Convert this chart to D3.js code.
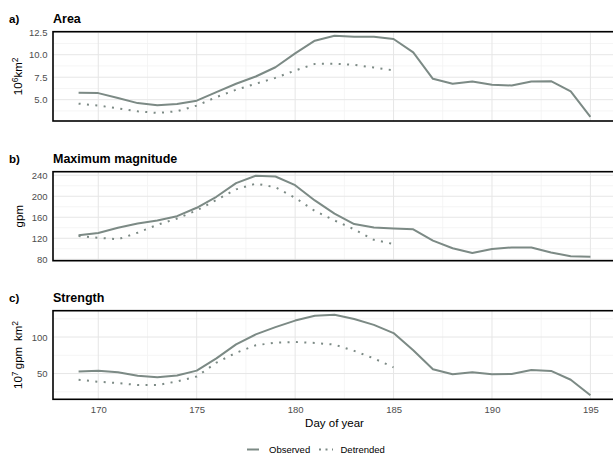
<!DOCTYPE html>
<html><head><meta charset="utf-8">
<script src="https://cdn.jsdelivr.net/npm/d3@7"></script>
<style>
body{margin:0;background:#fff;}
text{font-family:"Liberation Sans",Arial,Helvetica,sans-serif;}
</style></head>
<body><svg id="chart" width="613" height="454"></svg>
<script>
const days = d3.range(169, 196);
const detDays = d3.range(169, 186);

const areaObserved = [5.77,5.73,5.18,4.62,4.37,4.51,4.89,5.84,6.77,7.58,8.61,10.15,11.56,12.11,12.0,12.0,11.75,10.27,7.32,6.77,7.02,6.66,6.58,7.02,7.06,5.92,3.08];
const areaDetrended = [4.56,4.34,4.04,3.71,3.52,3.71,4.34,5.29,6.1,6.77,7.43,8.24,8.98,9.0,8.87,8.57,8.27];

const magObserved = [125.6,130,140,148,154,162,178,199,225,239,237.5,221,192,167,147,140.6,138.8,137,115.6,101,92,99.4,102.5,102.5,93,85.6,85];
const magDetrended = [124.4,121,118,130.6,145.6,157.5,173,193,213,224,217,197,172,154,137,117,109];

const strObserved = [52.7,54,51.8,46.9,45,47.3,54,70.7,90,103.6,113.5,122.5,129.2,130.5,124.7,116.6,105.4,82,55.9,49,51.8,49,49.5,55,53.6,41.5,20.3];
const strDetrended = [41.5,38.8,37,34.3,34.3,39.2,46,64.9,78.4,88.7,92.3,93.2,91.9,89.6,81,70.7,58.5];

const xTicks = [170,175,180,185,190,195];
const areaTicks = [5,7.5,10,12.5];
const magTicks = [80,120,160,200,240];
const strTicks = [50,100];

const panelLetters = ["a)","b)","c)"];
const panelTitles = ["Area","Maximum magnitude","Strength"];
const legendLabels = ["Observed","Detrended"];

const svg = d3.select("#chart");
const lineColor = "#7c8a85";
const left = 53, right = 616;

const x = d3.scaleLinear().domain([169 - 1.3, 195 + 1.3]).range([left, right]);

const panels = [
  {letter: panelLetters[0], title: panelTitles[0], obs: areaObserved, det: areaDetrended, ticks: areaTicks, fmt: d3.format(".1f"), top: 31.7, bottom: 121, ytitle: "area"},
  {letter: panelLetters[1], title: panelTitles[1], obs: magObserved, det: magDetrended, ticks: magTicks, fmt: d3.format("d"), top: 171.7, bottom: 260.7, ytitle: "gpm"},
  {letter: panelLetters[2], title: panelTitles[2], obs: strObserved, det: strDetrended, ticks: strTicks, fmt: d3.format("d"), top: 310.7, bottom: 399.3, ytitle: "str"}
];

panels.forEach((p, i) => {
  const all = p.obs.concat(p.det);
  const mn = d3.min(all), mx = d3.max(all), r = mx - mn;
  const y = d3.scaleLinear().domain([mn - 0.05*r, mx + 0.05*r]).range([p.bottom, p.top]);
  const g = svg.append("g");

  // minor grid
  const step = p.ticks[1] - p.ticks[0];
  const minorY = [];
  for (let v = p.ticks[0] - step*2.5; v <= p.ticks[p.ticks.length-1] + step*2; v += step) {
    if (v > y.domain()[0] && v < y.domain()[1]) minorY.push(v);
  }
  const minorX = [167.5,172.5,177.5,182.5,187.5,192.5];
  g.selectAll(".mny").data(minorY).enter().append("line")
    .attr("x1", left).attr("x2", right).attr("y1", d=>y(d)).attr("y2", d=>y(d))
    .attr("stroke","#f2f2f2").attr("stroke-width",0.8);
  g.selectAll(".mnx").data(minorX.filter(d=>x(d)>left)).enter().append("line")
    .attr("y1", p.top).attr("y2", p.bottom).attr("x1", d=>x(d)).attr("x2", d=>x(d))
    .attr("stroke","#f2f2f2").attr("stroke-width",0.8);
  // major grid
  g.selectAll(".mjy").data(p.ticks.filter(d=>d>=y.domain()[0] && d<=y.domain()[1])).enter().append("line")
    .attr("x1", left).attr("x2", right).attr("y1", d=>y(d)).attr("y2", d=>y(d))
    .attr("stroke","#e6e6e6").attr("stroke-width",1);
  g.selectAll(".mjx").data(xTicks).enter().append("line")
    .attr("y1", p.top).attr("y2", p.bottom).attr("x1", d=>x(d)).attr("x2", d=>x(d))
    .attr("stroke","#e6e6e6").attr("stroke-width",1);

  // lines
  const line = d3.line().x(d=>x(d[0])).y(d=>y(d[1]));
  g.append("path").datum(days.map((d,k)=>[d,p.obs[k]]))
    .attr("d", line).attr("fill","none").attr("stroke",lineColor)
    .attr("stroke-width",2).attr("stroke-linejoin","round");
  g.append("path").datum(detDays.map((d,k)=>[d,p.det[k]]))
    .attr("d", line).attr("fill","none").attr("stroke",lineColor)
    .attr("stroke-width",2).attr("stroke-dasharray","2 6.4");

  // border
  g.append("rect").attr("x", left).attr("y", p.top).attr("width", right-left).attr("height", p.bottom-p.top)
    .attr("fill","none").attr("stroke","#000").attr("stroke-width",1.6);

  // y axis
  const yAxis = d3.axisLeft(y).tickValues(p.ticks.filter(d=>d>=y.domain()[0]-1e-9 && d<=y.domain()[1]+1e-9)).tickFormat(p.fmt).tickSize(0).tickPadding(5.5);
  const ax = g.append("g").attr("transform",`translate(${left},0)`).call(yAxis);
  ax.select(".domain").remove();
  ax.selectAll("text").attr("fill","#4d4d4d").style("font-size","9.5px");

  // titles
  g.append("text").attr("x",9).attr("y",p.top-9).text(p.letter)
    .style("font-size","11.5px").style("font-weight","bold").attr("fill","#000");
  g.append("text").attr("x",53).attr("y",p.top-9).text(p.title)
    .style("font-size","12.5px").style("font-weight","bold").attr("fill","#000");

  // y title
  const cy = (p.top + p.bottom)/2;
  const yt = g.append("text").attr("transform",`translate(22,${cy}) rotate(-90)`)
    .attr("text-anchor","middle").style("font-size","11.5px").attr("fill","#000");
  if (p.ytitle === "area") {
    yt.append("tspan").text("10");
    yt.append("tspan").text("6").attr("dy",-4.5).style("font-size","8.5px");
    yt.append("tspan").text("km").attr("dy",4.5);
    yt.append("tspan").text("2").attr("dy",-4.5).style("font-size","8.5px");
  } else if (p.ytitle === "gpm") {
    yt.attr("transform",`translate(23,${cy}) rotate(-90)`).text("gpm");
  } else {
    yt.append("tspan").text("10");
    yt.append("tspan").text("7").attr("dy",-4.5).style("font-size","8.5px");
    yt.append("tspan").text("\u2009gpm\u2002km").attr("dy",4.5);
    yt.append("tspan").text("2").attr("dy",-4.5).style("font-size","8.5px");
  }

  if (i === 2) {
    const xAxis = d3.axisBottom(x).tickValues(xTicks).tickFormat(d3.format("d")).tickSize(0).tickPadding(6.5);
    const xa = g.append("g").attr("transform",`translate(0,${p.bottom})`).call(xAxis);
    xa.select(".domain").remove();
    xa.selectAll("text").attr("fill","#4d4d4d").style("font-size","9.5px");
    g.append("text").attr("x",(left+right)/2).attr("y",427).attr("text-anchor","middle")
      .style("font-size","11.5px").attr("fill","#000").text("Day of year");
  }
});

// legend
const lg = svg.append("g");
lg.append("line").attr("x1",247).attr("x2",259).attr("y1",449.5).attr("y2",449.5)
  .attr("stroke",lineColor).attr("stroke-width",2);
lg.append("text").attr("x",269).attr("y",453).text(legendLabels[0]).style("font-size","9.5px").attr("fill","#000");
lg.append("line").attr("x1",319).attr("x2",333).attr("y1",449.5).attr("y2",449.5)
  .attr("stroke",lineColor).attr("stroke-width",2).attr("stroke-dasharray","2 4.5");
lg.append("text").attr("x",340.5).attr("y",453).text(legendLabels[1]).style("font-size","9.5px").attr("fill","#000");
</script></body></html>
